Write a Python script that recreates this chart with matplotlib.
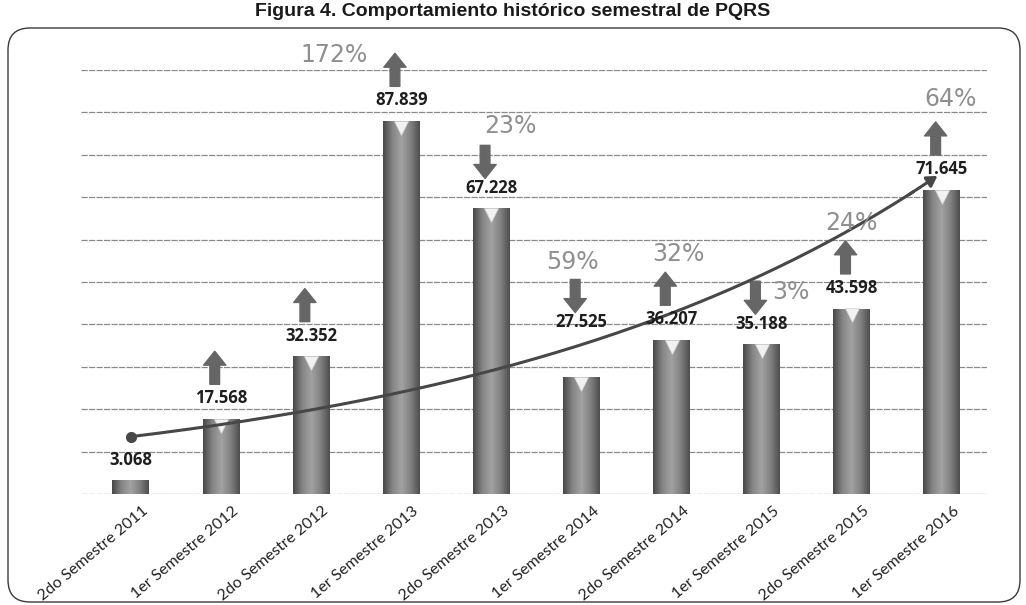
import numpy as np
import matplotlib
matplotlib.use("Agg")
import matplotlib.pyplot as plt
import matplotlib.transforms as mtransforms
from matplotlib.colors import LinearSegmentedColormap
from matplotlib.patches import FancyBboxPatch

# data
periods = ["2do Semestre 2011", "1er Semestre 2012", "2do Semestre 2012", "1er Semestre 2013",
           "2do Semestre 2013", "1er Semestre 2014", "2do Semestre 2014", "1er Semestre 2015",
           "2do Semestre 2015", "1er Semestre 2016"]
pqrs = [3068, 17568, 32352, 87839, 67228, 27525, 36207, 35188, 43598, 71645]
pct_labels = ["", "", "", "172%", "23%", "59%", "32%", "3%", "24%", "64%"]

# layout tweaks (label / percent placement as in the original)
label_y_fixed = {5: 40.6}
pct_offset = {3: (-0.75, -0.5), 4: (0.21, 4.5), 5: (-0.1, 4.2), 6: (0.08, 4.2),
              7: (0.32, -2.5), 8: (0.0, 4.2), 9: (0.09, 5.5)}

ARROW_C = "#666666"
PCT_C = "#8f8f8f"

fig = plt.figure(figsize=(10.26, 6.05), dpi=100)
ax = fig.add_axes([0.0793, 0.1835, 0.8827, 0.7008])

x = np.arange(len(pqrs))
vals = np.array(pqrs) / 1000.0
bw = 0.41

cyl = LinearSegmentedColormap.from_list("cyl", ["#484848", "#858585", "#a2a2a2", "#828282", "#4e4e4e"])
grad = np.linspace(0, 1, 64).reshape(1, -1)
for xi, v in zip(x, vals):
    ax.imshow(grad, cmap=cyl, aspect="auto", extent=[xi - bw / 2, xi + bw / 2, 0, v],
              origin="lower", zorder=2, interpolation="bicubic")
    if v > 10:
        ax.plot(xi, v - 1.5, marker="v", ms=10, color="#f2f2f2", mec="#d0d0d0", mew=0.5, zorder=3)

ax.set_xlim(-0.55, 9.5)
ax.set_ylim(0, 100)
ax.set_yticks(np.arange(0, 101, 10))
ax.yaxis.grid(True, color="#8a8a8a", lw=0.9, ls=(0, (5, 1)))
ax.set_axisbelow(True)
ax.tick_params(axis="y", length=0, labelleft=False)
ax.tick_params(axis="x", length=0, pad=2)
for s in ax.spines.values():
    s.set_visible(False)

ax.set_xticks(x)
ax.set_xticklabels(periods, rotation=40, ha="right", va="top", rotation_mode="anchor",
                   fontsize=11.5, family="Lato", color="#222222")
off = mtransforms.ScaledTranslation(8 / 72, -5 / 72, fig.dpi_scale_trans)
for lab in ax.get_xticklabels():
    lab.set_transform(lab.get_transform() + off)

# value labels
label_y = []
for i, v in enumerate(vals):
    ly = label_y_fixed.get(i, v + 5.0)
    label_y.append(ly)
    ax.text(x[i], ly, f"{pqrs[i]:,}".replace(",", "."), ha="center", va="center",
            fontsize=12, fontweight="bold", family="Open Sans", color="#1e1e1e", zorder=5)

# change arrows and percentages
for i in range(1, len(vals)):
    up = pqrs[i] > pqrs[i - 1]
    ax_x = x[i] - 0.07
    if up:
        y0 = label_y[i] + 3.3
        y1 = y0 + 7.8
        top = y1
    else:
        y1 = label_y[i] + 2.2
        y0 = y1 + 7.8
        top = y0
    ax.annotate("", xy=(ax_x, y1), xytext=(ax_x, y0),
                arrowprops=dict(arrowstyle="simple,head_length=1.0,head_width=1.6,tail_width=0.7",
                                color=ARROW_C, shrinkA=0, shrinkB=0, mutation_scale=10),
                annotation_clip=False, zorder=4)
    if pct_labels[i]:
        dx, dy = pct_offset[i]
        ax.text(x[i] + dx, top + dy, pct_labels[i], ha="center", va="center", fontsize=17,
                family="DejaVu Sans", color=PCT_C, clip_on=False, zorder=5)

# exponential trend line
coef = np.polyfit(x, np.log(vals), 1)
xs = np.linspace(0, 8.95, 200)
ys = np.exp(np.polyval(coef, xs))
ax.plot(xs[:-6], ys[:-6], color="#474747", lw=2.2, zorder=4, solid_capstyle="round")
ax.plot(xs[0], ys[0], "o", ms=7, color="#474747", zorder=4)
ax.annotate("", xy=(xs[-1], ys[-1]), xytext=(xs[-8], ys[-8]),
            arrowprops=dict(arrowstyle="-|>,head_length=0.5,head_width=0.3", color="#474747",
                            lw=2.2, shrinkA=0, shrinkB=0, mutation_scale=12), zorder=4)

# rounded frame and title
frame = FancyBboxPatch((0.08, 0.03), 10.12, 5.74, boxstyle="round,pad=0,rounding_size=0.22",
                       transform=fig.dpi_scale_trans, fill=False, ec="#3a3a3a", lw=1.0)
fig.patches.append(frame)
fig.text(0.5, 1 - 11 / 605, "Figura 4. Comportamiento histórico semestral de PQRS",
         ha="center", va="center", fontsize=14, fontweight="bold", family="Liberation Sans",
         color="#1a1a1a")

fig.savefig("out.png", dpi=100)
